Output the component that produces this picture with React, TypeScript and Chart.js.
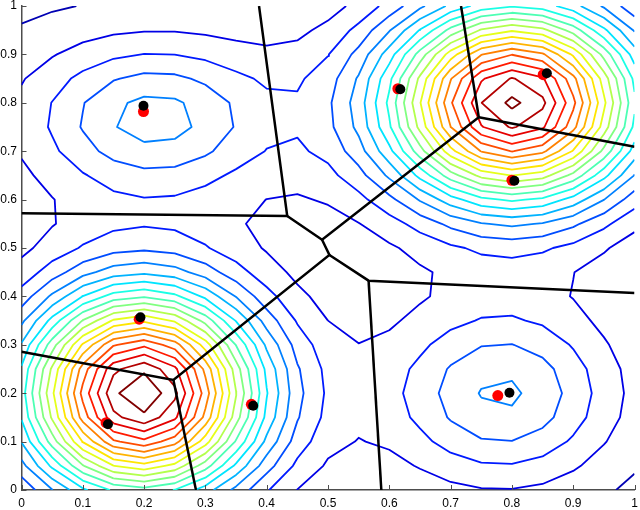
import React, { useEffect, useRef } from "react";
import { Chart, registerables } from "chart.js";

Chart.register(...registerables);

// ---- axis ticks ----
const tickValues = [0, 0.1, 0.2, 0.3, 0.4, 0.5, 0.6, 0.7, 0.8, 0.9, 1];
const tickLabels = ["0", "0.1", "0.2", "0.3", "0.4", "0.5", "0.6", "0.7", "0.8", "0.9", "1"];

// ---- density model (4 clusters: core + halo) ----
const clusterX = [0.195, 0.805, 0.215, 0.785];
const clusterY = [0.2, 0.8, 0.768, 0.198];
const coreAmp = [18.5, 17.8, 3.12, 2.85];
const coreSx = [0.13, 0.14, 0.12, 0.113];
const coreSy = [0.145, 0.14, 0.0975, 0.113];
const haloAmp = [2.4, 2.3, 2.3, 2.3];
const haloSx = [0.2, 0.2, 0.26, 0.19];
const haloSy = [0.2, 0.2, 0.18, 0.19];

// sampling grid of the contour plot
const gridX = [0, 0.05, 0.1, 0.15, 0.2, 0.25, 0.3, 0.35, 0.4, 0.45, 0.5, 0.55, 0.6, 0.65, 0.7, 0.75, 0.8, 0.85, 0.9, 0.95, 1];
const gridY = [0, 0.05, 0.1, 0.15, 0.2, 0.25, 0.3, 0.35, 0.4, 0.45, 0.5, 0.55, 0.6, 0.65, 0.7, 0.75, 0.8, 0.85, 0.9, 0.95, 1];
const contourLevels = [1, 2, 3, 4, 5, 6, 7, 8, 9, 10, 11, 12, 13, 14, 15, 16, 17, 18, 19, 20];
const topLevel = 20;

// ---- points ----
const estX = [0.199, 0.618, 0.857, 0.804, 0.194, 0.141, 0.378, 0.796];
const estY = [0.794, 0.828, 0.861, 0.639, 0.357, 0.136, 0.174, 0.201];
const trueX = [0.199, 0.614, 0.851, 0.8, 0.192, 0.138, 0.375, 0.777];
const trueY = [0.782, 0.829, 0.858, 0.64, 0.353, 0.139, 0.177, 0.195];

// ---- Voronoi boundaries (polylines) ----
const voronoiLinesX = [
  [0.3875, 0.4335, 0],
  [0.4335, 0.4903, 0.746, 0.717],
  [0.746, 1.0],
  [0.4903, 0.5023, 0.2478, 0],
  [0.2478, 0.2846],
  [0.5023, 0.5662, 1.0],
  [0.5662, 0.587],
];
const voronoiLinesY = [
  [1.0, 0.566, 0.572],
  [0.566, 0.517, 0.77, 1.0],
  [0.77, 0.709],
  [0.517, 0.4855, 0.2273, 0.2857],
  [0.2273, 0],
  [0.4855, 0.4325, 0.407],
  [0.4325, 0],
];

function fieldAt(x: number, y: number): number {
  let v = 0;
  for (let k = 0; k < clusterX.length; k++) {
    const dx = x - clusterX[k];
    const dy = y - clusterY[k];
    v += coreAmp[k] * Math.exp(-(dx * dx) / (2 * coreSx[k] * coreSx[k]) - (dy * dy) / (2 * coreSy[k] * coreSy[k]));
    v += haloAmp[k] * Math.exp(-(dx * dx) / (2 * haloSx[k] * haloSx[k]) - (dy * dy) / (2 * haloSy[k] * haloSy[k]));
  }
  return v;
}

function jet(t: number): string {
  const c = (v: number) => Math.round(255 * Math.max(0, Math.min(1, v)));
  const r = c(1.5 - Math.abs(4 * t - 3));
  const g = c(1.5 - Math.abs(4 * t - 2));
  const b = c(1.5 - Math.abs(4 * t - 1));
  return `rgb(${r},${g},${b})`;
}

type P = { x: number; y: number };

function contourPolylines(values: number[][], level: number): P[][] {
  const pts = new Map<string, P>();
  const segs: [string, string][] = [];
  const nx = gridX.length;
  const ny = gridY.length;
  const pt = (key: string, xa: number, ya: number, va: number, xb: number, yb: number, vb: number) => {
    if (!pts.has(key)) {
      const t = (level - va) / (vb - va);
      pts.set(key, { x: xa + t * (xb - xa), y: ya + t * (yb - ya) });
    }
    return key;
  };
  for (let j = 0; j < ny - 1; j++) {
    for (let i = 0; i < nx - 1; i++) {
      const v00 = values[j][i], v10 = values[j][i + 1], v11 = values[j + 1][i + 1], v01 = values[j + 1][i];
      const x0 = gridX[i], x1 = gridX[i + 1], y0 = gridY[j], y1 = gridY[j + 1];
      const a00 = v00 > level, a10 = v10 > level, a11 = v11 > level, a01 = v01 > level;
      const edges: Record<string, () => string> = {
        b: () => pt(`h${i},${j}`, x0, y0, v00, x1, y0, v10),
        t: () => pt(`h${i},${j + 1}`, x0, y1, v01, x1, y1, v11),
        l: () => pt(`v${i},${j}`, x0, y0, v00, x0, y1, v01),
        r: () => pt(`v${i + 1},${j}`, x1, y0, v10, x1, y1, v11),
      };
      const crossed: string[] = [];
      if (a00 !== a10) crossed.push("b");
      if (a10 !== a11) crossed.push("r");
      if (a11 !== a01) crossed.push("t");
      if (a01 !== a00) crossed.push("l");
      if (crossed.length === 2) {
        segs.push([edges[crossed[0]](), edges[crossed[1]]()]);
      } else if (crossed.length === 4) {
        const centerHigh = (v00 + v10 + v11 + v01) / 4 > level;
        const diagA = a00 && a11;
        let pairs: [string, string][];
        if (diagA) {
          pairs = centerHigh ? [["b", "r"], ["l", "t"]] : [["b", "l"], ["r", "t"]];
        } else {
          pairs = centerHigh ? [["b", "l"], ["r", "t"]] : [["b", "r"], ["l", "t"]];
        }
        for (const [e1, e2] of pairs) segs.push([edges[e1](), edges[e2]()]);
      }
    }
  }
  const adj = new Map<string, number[]>();
  segs.forEach((s, idx) => {
    for (const k of s) {
      if (!adj.has(k)) adj.set(k, []);
      adj.get(k)!.push(idx);
    }
  });
  const used = new Array(segs.length).fill(false);
  const lines: P[][] = [];
  const walk = (startKey: string) => {
    const keys = [startKey];
    let cur = startKey;
    while (true) {
      const list = adj.get(cur) || [];
      const next = list.find((s) => !used[s]);
      if (next === undefined) break;
      used[next] = true;
      const s = segs[next];
      cur = s[0] === cur ? s[1] : s[0];
      keys.push(cur);
    }
    lines.push(keys.map((k) => pts.get(k)!));
  };
  for (const [k, list] of adj) {
    if (list.length === 1 && !used[list[0]]) walk(k);
  }
  segs.forEach((s, idx) => {
    if (!used[idx]) walk(s[0]);
  });
  return lines;
}

const innerTicks = {
  id: "innerTicks",
  afterDraw(chart: any) {
    const { ctx, chartArea, scales } = chart;
    ctx.save();
    ctx.strokeStyle = "#4d4d4d";
    ctx.lineWidth = 1;
    for (const v of tickValues) {
      const px = Math.round(scales.x.getPixelForValue(v)) + 0.5;
      ctx.beginPath();
      ctx.moveTo(px, chartArea.bottom);
      ctx.lineTo(px, chartArea.bottom - 5);
      ctx.stroke();
      const py = Math.round(scales.y.getPixelForValue(v)) + 0.5;
      ctx.beginPath();
      ctx.moveTo(chartArea.left, py);
      ctx.lineTo(chartArea.left + 5, py);
      ctx.stroke();
    }
    ctx.restore();
  },
};

const zeroPad = (s: any) => {
  s.paddingTop = 0;
  s.paddingBottom = 0;
  s.paddingLeft = 0;
  s.paddingRight = 0;
};

export default function App() {
  const ref = useRef<HTMLCanvasElement | null>(null);
  useEffect(() => {
    if (!ref.current) return;
    const values = gridY.map((y) => gridX.map((x) => fieldAt(x, y)));
    const datasets: any[] = [];
    datasets.push({
      data: estX.map((x, i) => ({ x, y: estY[i] })),
      pointRadius: 5,
      pointBackgroundColor: "#000",
      pointBorderWidth: 0,
      showLine: false,
      order: 0,
    });
    datasets.push({
      data: trueX.map((x, i) => ({ x, y: trueY[i] })),
      pointRadius: 5.5,
      pointBackgroundColor: "#ff0000",
      pointBorderWidth: 0,
      showLine: false,
      order: 1,
    });
    voronoiLinesX.forEach((xs, li) => {
      datasets.push({
        data: xs.map((x, i) => ({ x, y: voronoiLinesY[li][i] })),
        showLine: true,
        borderColor: "#000",
        borderWidth: 2.5,
        pointRadius: 0,
        tension: 0,
        order: 2,
        borderJoinStyle: "miter",
      });
    });
    contourLevels.forEach((lv) => {
      const color = jet(lv / topLevel);
      for (const line of contourPolylines(values, lv)) {
        datasets.push({
          data: line,
          showLine: true,
          borderColor: color,
          borderWidth: 1.8,
          pointRadius: 0,
          tension: 0,
          order: 3,
          borderJoinStyle: "round",
        });
      }
    });
    const font = { family: "'Liberation Sans', Arial, sans-serif", size: 12 };
    const chart = new Chart(ref.current, {
      type: "scatter",
      data: { datasets },
      plugins: [innerTicks],
      options: {
        animation: false,
        responsive: false,
        events: [],
        layout: { padding: { top: 6, right: 3, left: 0, bottom: 0 } },
        plugins: { legend: { display: false }, tooltip: { enabled: false } },
        scales: {
          x: {
            type: "linear",
            min: 0,
            max: 1,
            afterBuildTicks: (s: any) => {
              s.ticks = tickValues.map((v) => ({ value: v }));
            },
            afterFit: (s: any) => {
              s.height = 20;
              zeroPad(s);
            },
            ticks: {
              callback: (_v: any, i: number) => tickLabels[i],
              font,
              color: "#000",
              padding: 6,
              maxRotation: 0,
              autoSkip: false,
            },
            grid: { display: false, drawTicks: false, tickLength: 0 },
            border: { display: true, color: "#4d4d4d", width: 1.5 },
          },
          y: {
            type: "linear",
            min: 0,
            max: 1,
            afterBuildTicks: (s: any) => {
              s.ticks = tickValues.map((v) => ({ value: v }));
            },
            afterFit: (s: any) => {
              s.width = 21.5;
              zeroPad(s);
            },
            ticks: {
              callback: (_v: any, i: number) => tickLabels[i],
              font,
              color: "#000",
              padding: 4.5,
              autoSkip: false,
            },
            grid: { display: false, drawTicks: false, tickLength: 0 },
            border: { display: true, color: "#4d4d4d", width: 1.5 },
          },
        },
      },
    });
    return () => chart.destroy();
  }, []);
  return (
    <div style={{ position: "absolute", left: 0, top: 0, width: 640, height: 510, background: "#fff" }}>
      <canvas ref={ref} width={640} height={510} style={{ display: "block" }} />
    </div>
  );
}
